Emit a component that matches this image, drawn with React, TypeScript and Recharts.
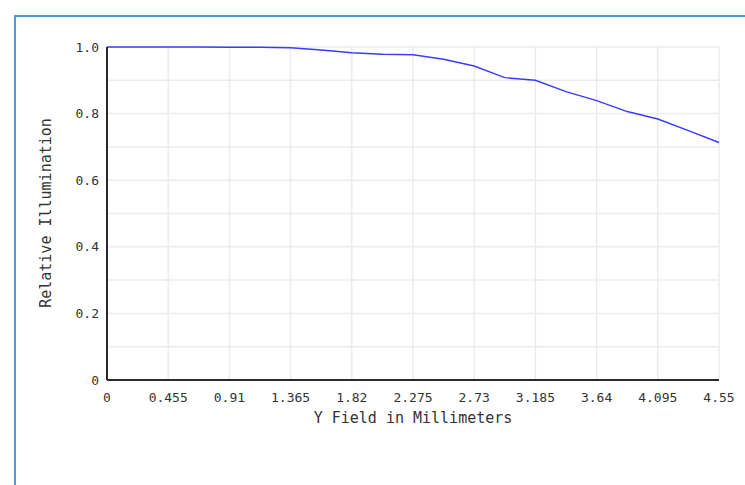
import { LineChart, Line, XAxis, YAxis, CartesianGrid } from "recharts"

const fieldMm = [0, 0.2275, 0.455, 0.6825, 0.91, 1.1375, 1.365, 1.5925, 1.82, 2.0475, 2.275, 2.5025, 2.73, 2.9575, 3.185, 3.4125, 3.64, 3.8675, 4.095, 4.3225, 4.55]
const relIllum = [1.0, 1.0, 1.0, 1.0, 0.999, 0.999, 0.998, 0.991, 0.983, 0.978, 0.977, 0.963, 0.943, 0.908, 0.9, 0.866, 0.839, 0.806, 0.784, 0.749, 0.713]
const xTicks = [0, 0.455, 0.91, 1.365, 1.82, 2.275, 2.73, 3.185, 3.64, 4.095, 4.55]
const yTicks = [0, 0.2, 0.4, 0.6, 0.8, 1.0]
const yGrid = [0, 0.1, 0.2, 0.3, 0.4, 0.5, 0.6, 0.7, 0.8, 0.9, 1.0]

const data = fieldMm.map((x, i) => ({ x, y: relIllum[i] }))

const mono = "'DejaVu Sans Mono', monospace"
const tickStyle = { fontSize: 13, fill: "#333", fontFamily: mono }

export default function App() {
  return (
    <div style={{ position: "fixed", left: 0, top: 0, width: 745, height: 485, overflow: "hidden", background: "#fff" }}>
      <div style={{ position: "absolute", left: 14, top: 15, width: 800, height: 600, borderLeft: "2px solid #4a9ddc", borderTop: "2px solid #4a9ddc" }} />
      <div style={{ position: "absolute", left: 0, top: 0 }}>
        <LineChart width={745} height={485} data={data} margin={{ top: 47, right: 26, bottom: 55, left: 47 }}>
          <CartesianGrid stroke="#ebebeb" strokeWidth={1.5} horizontalValues={yGrid} verticalValues={xTicks} />
          <XAxis
            dataKey="x"
            type="number"
            domain={[0, 4.55]}
            ticks={xTicks}
            tickFormatter={(v: number) => String(v)}
            tick={tickStyle}
            tickLine={false}
            tickMargin={7}
            axisLine={{ stroke: "#2a2a2a", strokeWidth: 2 }}
            height={50}
            interval={0}
            label={({ viewBox }: any) => (
              <text x={viewBox.x + viewBox.width / 2} y={423} textAnchor="middle" fontSize={15} fontFamily={mono} fill="#333">
                Y Field in Millimeters
              </text>
            )}
          />
          <YAxis
            type="number"
            domain={[0, 1]}
            ticks={yTicks}
            tickFormatter={(v: number) => (v === 0 ? "0" : v.toFixed(1))}
            tick={tickStyle}
            tickLine={false}
            axisLine={{ stroke: "#2a2a2a", strokeWidth: 2 }}
            width={60}
            label={() => (
              <text x={51} y={213} textAnchor="middle" fontSize={15} fontFamily={mono} fill="#333" transform="rotate(-90 51 213)">
                Relative Illumination
              </text>
            )}
          />
          <Line type="linear" dataKey="y" stroke="#3b3bff" strokeWidth={1.5} dot={false} isAnimationActive={false} />
        </LineChart>
      </div>
    </div>
  )
}
